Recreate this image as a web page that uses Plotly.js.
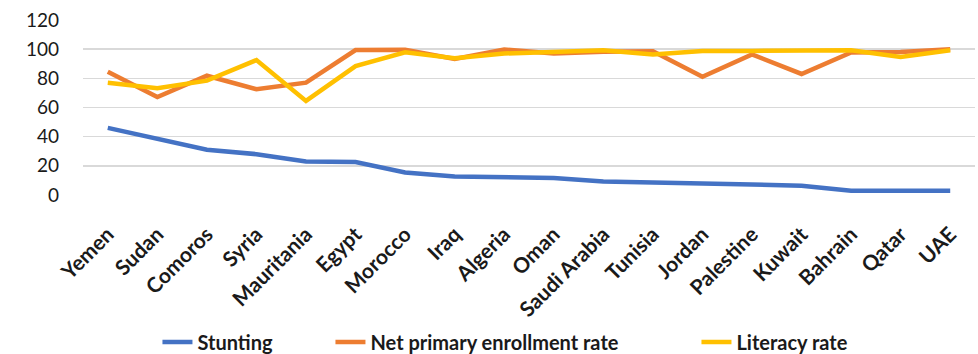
<!DOCTYPE html>
<html>
<head>
<meta charset="utf-8">
<script src="https://cdn.plot.ly/plotly-3.0.1.min.js"></script>
<style>
  html, body { margin: 0; padding: 0; background: #fff; }
  #chart { width: 978px; height: 354px; }
</style>
</head>
<body>
<div id="chart"></div>
<script>
// Countries along the x axis
const countries = ["Yemen", "Sudan", "Comoros", "Syria", "Mauritania", "Egypt", "Morocco", "Iraq",
  "Algeria", "Oman", "Saudi Arabia", "Tunisia", "Jordan", "Palestine", "Kuwait", "Bahrain", "Qatar", "UAE"];

// Series values (%)
const stunting = [46, 38.3, 31, 28, 23, 22.6, 15.5, 12.7, 12, 11.6, 9.3, 8.6, 8.2, 7.5, 6.4, 2.9, 2.9, 2.9];
const netPrimaryEnrollment = [84.5, 67.2, 81.8, 72.5, 77, 99.4, 99.6, 93.2, 99.8, 97, 98.3, 98.5, 81.1, 96.4, 83, 97.8, 98, 100];
const literacyRate = [77, 73.2, 78.4, 92.5, 64.5, 88.4, 97.8, 93.7, 97, 98.2, 99.3, 96.4, 98.8, 98.8, 98.8, 99.3, 94.7, 99.3];

const yTicks = [0, 20, 40, 60, 80, 100, 120];

const FONT = "Lato, 'Open Sans', 'DejaVu Sans', sans-serif";

function series(name, values, color, entryWidth) {
  return {
    type: "scatter",
    mode: "lines",
    name: name,
    x: countries,
    y: values,
    line: { color: color, width: 4.5 },
    legendwidth: entryWidth,
    hoverinfo: "x+y+name"
  };
}

const traces = [
  series("Stunting", stunting, "#4472C4", 128),
  series("Net primary enrollment rate", netPrimaryEnrollment, "#ED7D31", 321),
  series("Literacy rate", literacyRate, "#FFC000", 150)
];

const layout = {
  width: 978,
  height: 354,
  margin: { l: 83, r: 3, t: 20, b: 159 },
  paper_bgcolor: "#ffffff",
  plot_bgcolor: "#ffffff",
  font: { family: FONT, color: "#1a1a1a", size: 19 },
  showlegend: true,
  legend: {
    orientation: "h",
    xref: "container",
    yref: "container",
    x: 0.161,
    xanchor: "left",
    y: 0.034,
    yanchor: "middle",
    font: { family: FONT, size: 20, weight: "bold", color: "#1a1a1a" },
    traceorder: "normal"
  },
  xaxis: {
    type: "category",
    range: [-0.5, countries.length - 0.5],
    tickangle: -45,
    tickfont: { family: FONT, size: 21, weight: "bold", color: "#1a1a1a" },
    showgrid: false,
    zeroline: false,
    showline: false,
    ticks: "",
    ticklabelstandoff: 22,
    automargin: false,
    fixedrange: true
  },
  yaxis: {
    range: [0, 120],
    tickvals: yTicks,
    ticktext: yTicks.map(String),
    tickfont: { family: FONT, size: 19, color: "#1a1a1a" },
    showgrid: true,
    gridcolor: "#d9d9d9",
    gridwidth: 1.5,
    zeroline: false,
    showline: false,
    ticks: "",
    ticklabelstandoff: 23,
    automargin: false,
    fixedrange: true
  }
};

Plotly.newPlot("chart", traces, layout, { displayModeBar: false, staticPlot: true });
</script>
</body>
</html>
